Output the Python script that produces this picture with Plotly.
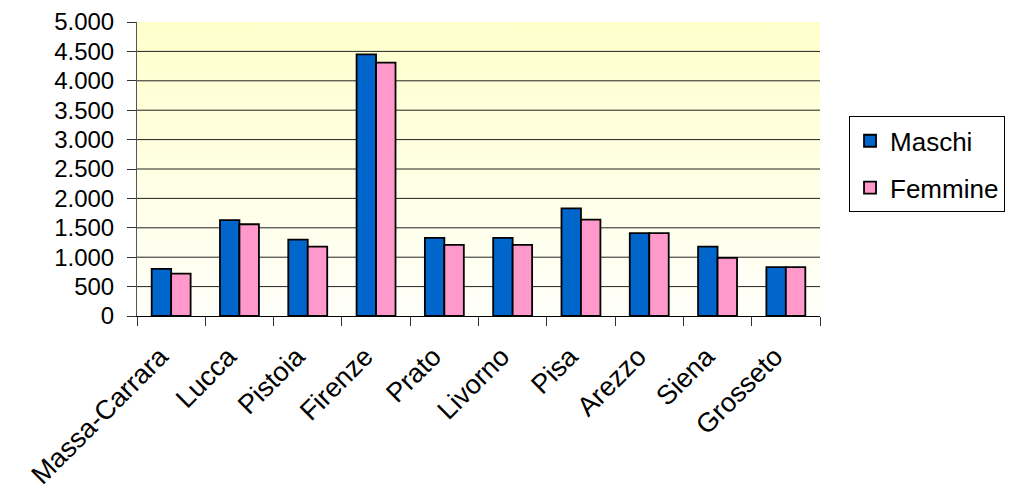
import base64
import plotly.graph_objects as go

province = ["Massa-Carrara", "Lucca", "Pistoia", "Firenze", "Prato",
            "Livorno", "Pisa", "Arezzo", "Siena", "Grosseto"]
maschi = [800, 1630, 1300, 4450, 1330, 1330, 1830, 1410, 1180, 830]
femmine = [720, 1560, 1180, 4310, 1210, 1210, 1640, 1410, 990, 830]
y_ticks = [0, 500, 1000, 1500, 2000, 2500, 3000, 3500, 4000, 4500, 5000]
grid_vals = y_ticks[1:-1]

FONT = "Arial, Liberation Sans, sans-serif"
FS = 24

fig = go.Figure()
fig.add_trace(go.Bar(
    name="Maschi", x=province, y=maschi, legendgroup="m",
    marker=dict(color="#0066CC", line=dict(color="black", width=1.8)),
))
fig.add_trace(go.Bar(
    name="Femmine", x=province, y=femmine, legendgroup="f",
    marker=dict(color="#FF99CC", line=dict(color="black", width=1.8)),
))

svg = ('<svg xmlns="http://www.w3.org/2000/svg" width="100" height="100" preserveAspectRatio="none">'
       '<defs><linearGradient id="g" x1="0" y1="0" x2="0" y2="1">'
       '<stop offset="0" stop-color="#FFFFCC"/><stop offset="1" stop-color="#FFFFFA"/>'
       '</linearGradient></defs><rect width="100" height="100" fill="url(#g)"/></svg>')
src = "data:image/svg+xml;base64," + base64.b64encode(svg.encode()).decode()

shapes = [dict(type="line", xref="paper", yref="y", x0=0, x1=1, y0=v, y1=v,
               line=dict(color="#222222", width=1), layer="below")
          for v in grid_vals]

fig.update_layout(
    width=1016, height=503,
    margin=dict(l=129, r=204, t=13.5, b=195, pad=0, autoexpand=False),
    paper_bgcolor="white",
    plot_bgcolor="rgba(0,0,0,0)",
    separators=",.",
    barmode="group", bargap=0.43, bargroupgap=0,
    font=dict(family=FONT, size=FS, color="black"),
    images=[dict(source=src, xref="paper", yref="paper", x=0, y=1,
                 sizex=1, sizey=1, sizing="stretch", layer="below",
                 xanchor="left", yanchor="top")],
    shapes=shapes,
    xaxis=dict(
        tickangle=-45, tickson="boundaries", ticks="outside", ticklen=9,
        tickcolor="#333333", tickwidth=1, showgrid=False, automargin=False,
        showline=True, linecolor="black", linewidth=1,
        ticklabelstandoff=13, ticklabelshift=-11,
        tickfont=dict(family=FONT, size=27, color="black"),
    ),
    yaxis=dict(
        range=[0, 5000], tickvals=y_ticks, tickformat=",d", automargin=False,
        ticks="outside", ticklen=9, tickcolor="#333333", tickwidth=1,
        showgrid=False, zeroline=False, ticklabelstandoff=8,
        showline=True, linecolor="#555555", linewidth=1,
        tickfont=dict(family=FONT, size=FS, color="black"),
    ),
    legend=dict(
        x=1.0425, y=0.679, xanchor="left", yanchor="top",
        bordercolor="black", borderwidth=1, bgcolor="white",
        font=dict(family=FONT, size=26, color="black"),
        tracegroupgap=10, traceorder="grouped",
        entrywidth=132, entrywidthmode="pixels",
    ),
)

fig.write_html("out.html")
